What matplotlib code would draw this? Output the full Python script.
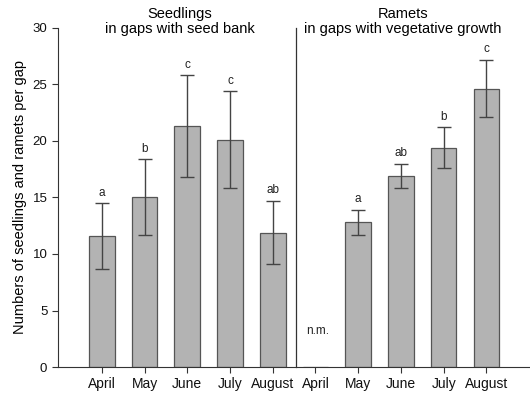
import numpy as np
import matplotlib
matplotlib.use("Agg")
import matplotlib.pyplot as plt

months = ["April", "May", "June", "July", "August"]

# Seedlings in gaps with seed bank
seed_mean = [11.6, 15.0, 21.3, 20.1, 11.9]
seed_low = [8.7, 11.7, 16.8, 15.8, 9.1]
seed_high = [14.5, 18.4, 25.8, 24.4, 14.7]
seed_letters = ["a", "b", "c", "c", "ab"]

# Ramets in gaps with vegetative growth (April not measured)
ramet_mean = [np.nan, 12.8, 16.9, 19.4, 24.6]
ramet_low = [np.nan, 11.7, 15.8, 17.6, 22.1]
ramet_high = [np.nan, 13.9, 18.0, 21.2, 27.2]
ramet_letters = ["", "a", "ab", "b", "c"]

plt.rcParams['font.family'] = ['Liberation Sans', 'DejaVu Sans']

fig = plt.figure(figsize=(5.3, 3.94), dpi=100)
ax = fig.add_axes([0.109, 0.0685, 0.891, 0.8605])

mean = np.array(seed_mean + ramet_mean)
low = np.array(seed_low + ramet_low)
high = np.array(seed_high + ramet_high)
letters = seed_letters + ramet_letters
x = np.arange(len(mean))

ax.bar(x, np.nan_to_num(mean), width=0.6, color="#b3b3b3", edgecolor="#555555", linewidth=0.9, zorder=2)
ok = ~np.isnan(mean)
ax.errorbar(x[ok], mean[ok], yerr=[mean[ok] - low[ok], high[ok] - mean[ok]],
            fmt="none", ecolor="#444444", elinewidth=1.0, capsize=5, capthick=1.0, zorder=3)

for xi, h, lab in zip(x, high, letters):
    if lab:
        ax.text(xi, h + 0.4, lab, ha="center", va="bottom", fontsize=8.5, color="#222222")

ax.text(5.05, 3.2, "n.m.", ha="center", va="center", fontsize=8.5, color="#222222")

# divider between the two panels
ax.plot([4.54, 4.54], [0, 30], color="#333333", linewidth=0.9, clip_on=False)

ax.set_xlim(-1.03, 10.02)
ax.set_ylim(0, 30)
ax.set_yticks([0, 5, 10, 15, 20, 25, 30])
ax.set_xticks(x)
ax.set_xticklabels(months + months, fontsize=10)
ax.tick_params(axis="y", labelsize=9.5, direction="out", length=4, width=0.8, colors="#333333")
ax.tick_params(axis="x", direction="out", length=4, width=0.8, colors="#333333", pad=3)
for t in ax.get_xticklabels() + ax.get_yticklabels():
    t.set_color("#111111")
ax.spines["top"].set_visible(False)
ax.spines["right"].set_visible(False)
ax.spines["left"].set_color("#333333")
ax.spines["bottom"].set_color("#333333")
ax.set_ylabel("Numbers of seedlings and ramets per gap", fontsize=10.5, labelpad=4)

ax.text(1.83, 31.9, "Seedlings\nin gaps with seed bank", ha="center", va="top",
        fontsize=10.5, linespacing=1.15)
ax.text(7.05, 31.9, "Ramets\nin gaps with vegetative growth", ha="center", va="top",
        fontsize=10.5, linespacing=1.15)

fig.savefig("out.png", dpi=100)
